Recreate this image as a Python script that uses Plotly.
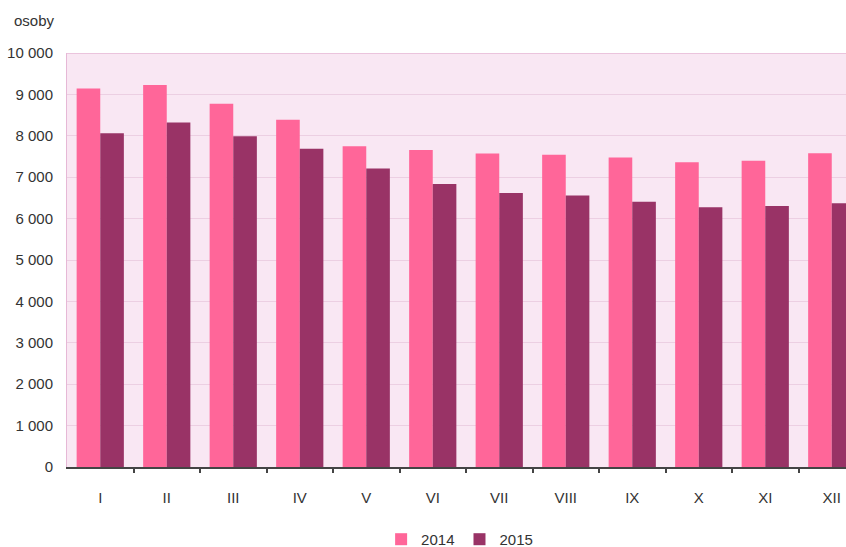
import plotly.graph_objects as go

months = ["I", "II", "III", "IV", "V", "VI", "VII", "VIII", "IX", "X", "XI", "XII"]
series_names = ["2014", "2015"]
values_2014 = [9145, 9225, 8775, 8390, 7750, 7660, 7570, 7540, 7475, 7360, 7400, 7577]
values_2015 = [8060, 8320, 7990, 7690, 7210, 6838, 6620, 6555, 6410, 6273, 6304, 6370]
y_tick_values = [0, 1000, 2000, 3000, 4000, 5000, 6000, 7000, 8000, 9000, 10000]
y_axis_label = "osoby"

FONT = "Liberation Sans, Arial, sans-serif"
C2014 = "#ff6699"
C2015 = "#993366"

fig = go.Figure()
fig.add_trace(go.Bar(x=months, y=values_2014, name=series_names[0],
                     marker=dict(color=C2014, line=dict(width=0))))
fig.add_trace(go.Bar(x=months, y=values_2015, name=series_names[1],
                     marker=dict(color=C2015, line=dict(width=0))))
# invisible trace on overlay axis to carry boundary ticks
fig.add_trace(go.Scatter(x=[0], y=[0], xaxis="x2", mode="markers",
                         marker=dict(opacity=0), showlegend=False, hoverinfo="skip"))

n = len(months)
x_hi = -0.5 + (846 - 67) / 66.5

fig.update_layout(
    width=846, height=547,
    margin=dict(l=67, r=0, t=53, b=80, autoexpand=False),
    paper_bgcolor="white",
    plot_bgcolor="#f9e7f3",
    barmode="group",
    bargap=0.29,
    bargroupgap=0,
    separators=", ",
    font=dict(family=FONT, size=15, color="#333333"),
    showlegend=True,
    legend=dict(orientation="h", x=0.504, xanchor="center", y=-0.175, yanchor="middle",
                font=dict(family=FONT, size=15, color="#333333"),
                itemwidth=30, tracegroupgap=0),
    xaxis=dict(type="category", range=[-0.5, x_hi], showgrid=False, automargin=False,
               showline=True, linecolor="#444444", linewidth=1.5,
               ticks="", ticklabelstandoff=16, tickfont=dict(size=15, color="#333333"),
               zeroline=False, fixedrange=True),
    xaxis2=dict(overlaying="x", type="linear", range=[-0.5, x_hi], automargin=False,
                tickvals=[i + 0.5 for i in range(n - 1)], showticklabels=False,
                ticks="outside", ticklen=5, tickwidth=1.5, tickcolor="#444444",
                showgrid=False, zeroline=False, showline=False),
    yaxis=dict(range=[0, 10000], tickvals=y_tick_values, tickformat=",d", automargin=False,
               showgrid=True, gridcolor="#eccfe2", gridwidth=1,
               showline=True, linecolor="#e6b8d6", linewidth=1,
               ticks="", ticklabelstandoff=10, tickfont=dict(size=15, color="#333333"),
               zeroline=False),
    shapes=[dict(type="line", xref="paper", yref="y", x0=0, x1=1, y0=10000, y1=10000,
                 line=dict(color="#e6b8d6", width=1.5))],
    annotations=[dict(text=y_axis_label, xref="paper", yref="paper",
                      x=(12 - 67) / 779, y=(467 - 20) / 414, xanchor="left", yanchor="middle",
                      showarrow=False, font=dict(family=FONT, size=15, color="#333333"))],
)

fig.write_html("out.html",
               config={"displayModeBar": False},
               post_script="document.body.style.margin='0';document.body.style.padding='0';"
                           "document.documentElement.style.overflow='hidden';")
